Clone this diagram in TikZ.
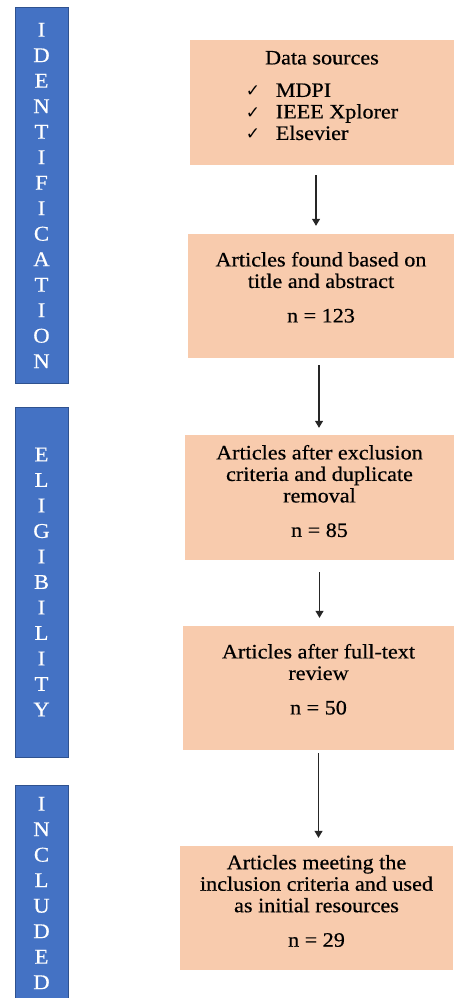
\documentclass[tikz,border=0pt]{standalone}
\usepackage{fontspec}
\setmainfont{Liberation Serif}[FakeStretch=1.08,FakeBold=0.5]
\newfontfamily\ckfont{DejaVu Sans}
\usetikzlibrary{arrows.meta,positioning}

\definecolor{peach}{HTML}{F8CBAD}
\definecolor{stageblue}{HTML}{4472C4}
\definecolor{stageedge}{HTML}{2F528F}
\newcommand{\ck}{\makebox[30pt][l]{\ckfont\fontsize{17}{17}\selectfont ✓}}

\tikzset{
    stagebar/.style={draw=stageedge, line width=1pt, fill=stageblue, text=white,
        minimum width=53pt, align=center, inner sep=0pt,
        font=\fontsize{21}{25.5}\selectfont},
    stepbox/.style={fill=peach, inner sep=0pt},
    boxtext/.style={align=center, inner sep=0pt, font=\fontsize{20.5}{21.5}\selectfont},
    flow/.style={draw=black!85, line width=1.2pt, -{Triangle[length=7pt,width=8pt]}}
}

\begin{document}
\begin{tikzpicture}[x=1pt,y=-1pt]
    \useasboundingbox (0,0) rectangle (454,998);
    % stage bars on the left
    \node[stagebar, minimum height=375pt] (idbar) at (41.5,195.5) {I\\D\\E\\N\\T\\I\\F\\I\\C\\A\\T\\I\\O\\N};
    \node[stagebar, minimum height=350pt] (elbar) at (41.5,582) {E\\L\\I\\G\\I\\B\\I\\L\\I\\T\\Y};
    \node[stagebar, minimum height=216pt] (inbar) at (41.5,893) {I\\N\\C\\L\\U\\D\\E\\D};
    % flow boxes
    \node[stepbox, minimum width=264pt, minimum height=125pt] (b1) at (322,102.5) {};
    \node[stepbox, minimum width=266pt, minimum height=124pt] (b2) at (321,296) {};
    \node[stepbox, minimum width=269pt, minimum height=125pt] (b3) at (319.5,497.5) {};
    \node[stepbox, minimum width=271pt, minimum height=124pt] (b4) at (318.5,688) {};
    \node[stepbox, minimum width=273pt, minimum height=124pt] (b5) at (316.5,908) {};
    % box texts
    \node[boxtext, below=11pt of b1.north] (t1) {Data sources\\[11pt]
        \begin{tabular}[t]{@{}l@{}}\ck MDPI\\ \ck IEEE Xplorer\\ \ck Elsevier\end{tabular}};
    \node[boxtext, below=18pt of b2.north] (t2) {Articles found based on\\title and abstract\\[13pt]n = 123};
    \node[boxtext, below=10pt of b3.north] (t3) {Articles after exclusion\\criteria and duplicate\\removal\\[13pt]n = 85};
    \node[boxtext, below=18pt of b4.north] (t4) {Articles after full-text\\review\\[13pt]n = 50};
    \node[boxtext, below=9pt of b5.north] (t5) {Articles meeting the\\inclusion criteria and used\\as initial resources\\[13pt]n = 29};
    % arrows
    \draw[flow, shorten <=10pt, shorten >=8pt] ([xshift=-6pt]b1.south) -- ([xshift=-6pt]b1.south |- b2.north);
    \draw[flow, shorten <=7pt, shorten >=7pt] ([xshift=-2pt]b2.south) -- ([xshift=-2pt]b2.south |- b3.north);
    \draw[flow, shorten <=12pt, shorten >=8pt] (b3.south) -- (b3.south |- b4.north);
    \draw[flow, shorten <=3pt, shorten >=8pt] (b4.south) -- (b4.south |- b5.north);
\end{tikzpicture}
\end{document}
